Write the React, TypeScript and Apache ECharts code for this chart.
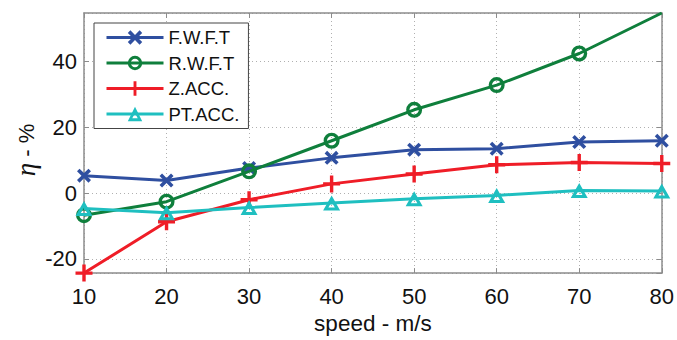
import React, { useEffect, useRef } from "react";
import * as echarts from "echarts";

const speeds = [10, 20, 30, 40, 50, 60, 70, 80];
const fwft = [5.3, 3.8, 7.6, 10.7, 13.2, 13.5, 15.5, 15.9];
const rwft = [-6.7, -2.6, 6.6, 15.9, 25.3, 32.8, 42.4, 54.7];
const zacc = [-24.3, -8.7, -2.0, 2.8, 5.8, 8.6, 9.3, 9.0];
const ptacc = [-4.7, -6.0, -4.4, -3.0, -1.7, -0.7, 0.8, 0.6];
const seriesNames = ["F.W.F.T", "R.W.F.T", "Z.ACC.", "PT.ACC."];
const xTicks = [10, 20, 30, 40, 50, 60, 70, 80];

const colors = ["#2f4fa0", "#0f7f3c", "#ef1d27", "#1fbfc0"];
const X_PATH =
  "path://M0,1.8 L1.8,0 L5,3.2 L8.2,0 L10,1.8 L6.8,5 L10,8.2 L8.2,10 L5,6.8 L1.8,10 L0,8.2 L3.2,5 Z";
const PLUS_PATH = "path://M4,0 H6 V4 H10 V6 H6 V10 H4 V6 H0 V4 H4 Z";
const RING_PATH =
  "path://M0,5 A5,5 0 1,0 10,5 A5,5 0 1,0 0,5 Z M2.1,5 A2.9,2.9 0 1,1 7.9,5 A2.9,2.9 0 1,1 2.1,5 Z";
const TRI_PATH = "path://M5,0 L10,10 L0,10 Z M5,4.4 L3.1,8.0 L6.9,8.0 Z";
const symbols = [X_PATH, RING_PATH, PLUS_PATH, TRI_PATH];

const FONT = "Liberation Sans, Arial, Helvetica, sans-serif";

export default function App() {
  const ref = useRef<HTMLDivElement>(null);
  useEffect(() => {
    if (!ref.current) return;
    const chart = echarts.init(ref.current, undefined, { renderer: "svg" });
    const all = [...fwft, ...rwft, ...zacc, ...ptacc];
    const yMin = Math.min(...all);
    const yMax = Math.max(...all);
    const pair = (arr: number[], hideLast = false) =>
      speeds.map((s, i) =>
        hideLast && i === speeds.length - 1 ? { value: [s, arr[i]], symbol: "none" } : [s, arr[i]]
      );
    const axisGray = "#8c8c8c";
    const mk = (i: number, data: any[], size: number | number[]) => ({
      name: seriesNames[i],
      type: "line",
      data,
      symbol: symbols[i],
      symbolSize: size,
      showAllSymbol: true,
      lineStyle: { color: colors[i], width: 3 },
      itemStyle: { color: colors[i], borderWidth: 0 },
      z: 3 + i,
    });
    chart.setOption({
      animation: false,
      color: colors,
      grid: { left: 84, right: 11, top: 13, bottom: 62, show: false },
      legend: {
        left: 94,
        top: 23,
        orient: "vertical",
        backgroundColor: "#fff",
        borderColor: "#444",
        borderWidth: 1,
        padding: [5, 9, 5, 11],
        itemWidth: 57,
        itemHeight: 18,
        itemGap: 6.5,
        itemTextGap: 5,
        lineStyle: { width: 3 },
        itemStyle: { borderWidth: 0 },
        textStyle: { fontFamily: FONT, fontSize: 18.5, color: "#111", lineHeight: 18 },
        data: seriesNames,
      },
      xAxis: [
        {
          type: "value",
          min: 10,
          max: 80,
          interval: 10,
          name: "speed - m/s",
          nameLocation: "middle",
          nameGap: 36,
          nameTextStyle: { fontFamily: FONT, fontSize: 22.5, color: "#111" },
          axisLine: { show: true, onZero: false, lineStyle: { color: axisGray, width: 1.5 } },
          axisTick: { show: true, inside: true, length: 5, lineStyle: { color: axisGray } },
          axisLabel: { fontFamily: FONT, fontSize: 22, color: "#111", margin: 12, customValues: xTicks },
          splitLine: { show: true, lineStyle: { color: "#b0b0b0", type: [1, 3], width: 1 } },
        },
        {
          type: "value",
          position: "top",
          min: 10,
          max: 80,
          interval: 10,
          axisLine: { show: true, onZero: false, lineStyle: { color: axisGray, width: 1.5 } },
          axisTick: { show: true, inside: true, length: 5, lineStyle: { color: axisGray } },
          axisLabel: { show: false },
          splitLine: { show: false },
        },
      ],
      yAxis: [
        {
          type: "value",
          min: yMin,
          max: yMax,
          splitNumber: 4,
          axisLine: { show: true, onZero: false, lineStyle: { color: axisGray, width: 1.5 } },
          axisTick: { show: true, inside: true, length: 5, lineStyle: { color: axisGray } },
          axisLabel: {
            fontFamily: FONT,
            fontSize: 22,
            color: "#111",
            margin: 7,
            showMinLabel: false,
            showMaxLabel: false,
          },
          splitLine: { show: true, lineStyle: { color: "#b0b0b0", type: [1, 3], width: 1 } },
        },
        {
          type: "value",
          position: "right",
          min: yMin,
          max: yMax,
          splitNumber: 4,
          axisLine: { show: true, onZero: false, lineStyle: { color: axisGray, width: 1.5 } },
          axisTick: { show: true, inside: true, length: 5, lineStyle: { color: axisGray } },
          axisLabel: { show: false },
          splitLine: { show: false },
        },
      ],
      graphic: [
        {
          type: "text",
          x: 26,
          y: 150,
          rotation: Math.PI / 2,
          style: {
            text: "{eta|η} - %",
            fontFamily: FONT,
            fontSize: 22,
            fill: "#111",
            align: "center",
            verticalAlign: "middle",
            rich: {
              eta: { fontFamily: "Liberation Serif, Times New Roman, serif", fontStyle: "italic", fontSize: 27, fill: "#111" },
            },
          },
        },
      ],
      series: [
        mk(0, pair(fwft), 14),
        mk(1, pair(rwft, true), 16),
        mk(2, pair(zacc), 17),
        mk(3, pair(ptacc), [17, 15]),
      ],
    });
    return () => chart.dispose();
  }, []);
  return <div ref={ref} style={{ width: 677, height: 340, position: "absolute", left: 0, top: 0 }} />;
}
